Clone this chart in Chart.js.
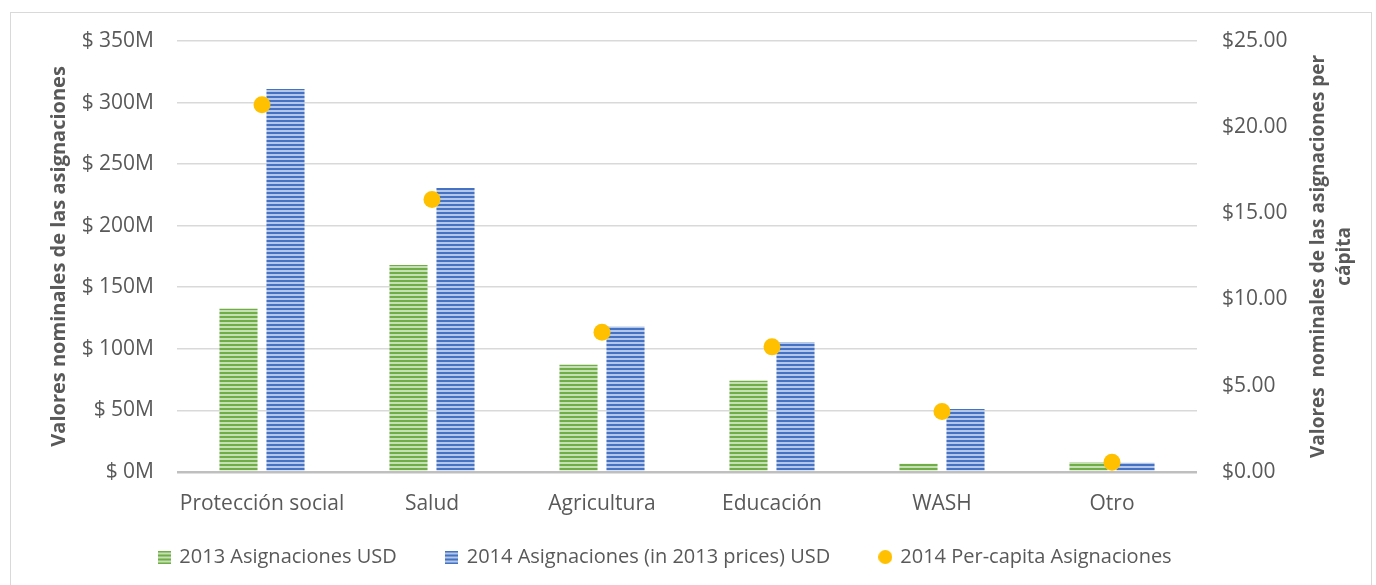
<!DOCTYPE html>
<html>
<head>
<meta charset="utf-8">
<script src="https://cdn.jsdelivr.net/npm/chart.js@4.4.1/dist/chart.umd.min.js"></script>
<style>
  html, body { margin: 0; padding: 0; background: #fff; }
  #wrap { position: absolute; left: 0; top: 0; width: 1376px; height: 585px; }
  #frame { position: absolute; left: 10px; top: 12px; width: 1360px; height: 590px; border: 1px solid #d9d9d9; pointer-events: none; }
</style>
</head>
<body>
<div id="wrap"><canvas id="chart" width="1376" height="585"></canvas></div>
<div id="frame"></div>
<script>
const categories = ["Protección social", "Salud", "Agricultura", "Educación", "WASH", "Otro"];
const asig2013 = [132.5, 168, 87, 74, 6.5, 8];
const asig2014 = [311, 230.5, 118, 105.5, 51, 7.3];
const perCapita2014 = [21.3, 15.8, 8.1, 7.25, 3.5, 0.55];
const leftTicks = [0, 50, 100, 150, 200, 250, 300, 350];
const rightTicks = [0, 5, 10, 15, 20, 25];

const FONT = "'Open Sans', sans-serif";
const FS = 21;
const GREY = "#595959";

function stripeCanvas(w, h, dark, light) {
    const c = document.createElement("canvas");
    c.width = w; c.height = h;
    const g = c.getContext("2d");
    g.fillStyle = light; g.fillRect(0, 0, w, h);
    g.fillStyle = dark;
    for (let y = 0; y < h; y += 4) g.fillRect(0, y, w, 2);
    return c;
}
function stripes(dark, light) {
    const c = stripeCanvas(4, 4, dark, light);
    return c.getContext("2d").createPattern(c, "repeat");
}
function dotCanvas(d, color) {
    const c = document.createElement("canvas");
    c.width = d; c.height = d;
    const g = c.getContext("2d");
    g.fillStyle = color;
    g.beginPath(); g.arc(d / 2, d / 2, d / 2, 0, Math.PI * 2); g.fill();
    return c;
}
const greenPat = stripes("#70ad47", "#c5e0b4");
const bluePat = stripes("#4472c4", "#b4c7e7");
const legendIcons = [
    stripeCanvas(13, 13, "#70ad47", "#c5e0b4"),
    stripeCanvas(13, 13, "#4472c4", "#b4c7e7"),
    dotCanvas(14, "#ffc000")
];

// right axis title reads bottom-to-top, drawn by hand
const rightTitle = {
    id: "rightTitle",
    afterDraw(chart) {
        const ctx = chart.ctx;
        const cy = (chart.chartArea.top + chart.chartArea.bottom) / 2;
        ctx.save();
        ctx.fillStyle = GREY;
        ctx.font = "bold 19px " + FONT;
        ctx.textAlign = "center";
        ctx.textBaseline = "middle";
        const lines = ["Valores  nominales de las asignaciones per", "cápita"];
        lines.forEach((t, i) => {
            ctx.save();
            ctx.translate(1319 + i * 26, cy);
            ctx.rotate(-Math.PI / 2);
            ctx.fillText(t, 0, 0);
            ctx.restore();
        });
        ctx.restore();
    }
};

const LEGEND_PAD = 30;
const GAP = "\u2002\u2002";
const PAD_R = 45;

new Chart(document.getElementById("chart"), {
    data: {
        labels: categories,
        datasets: [
            {
                type: "bar",
                label: "2013 Asignaciones USD",
                data: asig2013,
                backgroundColor: greenPat,
                yAxisID: "y",
                categoryPercentage: 0.553,
                barPercentage: 0.81,
                order: 1
            },
            {
                type: "bar",
                label: "2014 Asignaciones (in 2013 prices) USD",
                data: asig2014,
                backgroundColor: bluePat,
                yAxisID: "y",
                categoryPercentage: 0.553,
                barPercentage: 0.81,
                order: 1
            },
            {
                type: "line",
                label: "2014 Per-capita Asignaciones",
                data: perCapita2014,
                showLine: false,
                pointRadius: 8.5,
                pointHoverRadius: 8.5,
                pointStyle: "circle",
                backgroundColor: "#ffc000",
                borderColor: "#ffc000",
                borderWidth: 0,
                yAxisID: "y1",
                order: 0
            }
        ]
    },
    options: {
        responsive: false,
        animation: false,
        layout: { padding: { top: 41, left: 0, right: PAD_R, bottom: 8 } },
        plugins: {
            tooltip: { enabled: false },
            legend: {
                position: "bottom",
                labels: {
                    usePointStyle: true,
                    boxWidth: 10,
                    boxHeight: 13,
                    padding: LEGEND_PAD,
                    color: GREY,
                    font: { family: FONT, size: 20 },
                    sort: (a, b) => a.datasetIndex - b.datasetIndex,
                    generateLabels: chart => {
                        const items = Chart.defaults.plugins.legend.labels.generateLabels(chart);
                        items.forEach(it => {
                            it.pointStyle = legendIcons[it.datasetIndex];
                            if (it.datasetIndex < 2) it.text += GAP;
                        });
                        return items;
                    }
                }
            }
        },
        scales: {
            x: {
                grid: { display: false, drawTicks: true, tickLength: 20 },
                border: { display: false },
                ticks: { color: GREY, font: { family: FONT, size: FS }, padding: 0, maxRotation: 0 }
            },
            y: {
                position: "left",
                min: 0,
                max: 350,
                afterBuildTicks: s => { s.ticks = leftTicks.map(v => ({ value: v })); },
                grid: {
                    color: ctx => ctx.tick.value === 0 ? "#bfbfbf" : "#d9d9d9",
                    lineWidth: ctx => ctx.tick.value === 0 ? 2.5 : 1.5,
                    drawTicks: false
                },
                border: { display: false },
                ticks: {
                    color: GREY,
                    font: { family: FONT, size: FS },
                    padding: 23,
                    callback: v => "$ " + v + "M"
                },
                title: {
                    display: true,
                    text: "Valores nominales de las asignaciones",
                    color: GREY,
                    font: { family: FONT, size: 20, weight: "bold" },
                    padding: { top: 47, bottom: 0 }
                },
                afterFit: s => { s.width = 177; }
            },
            y1: {
                position: "right",
                min: 0,
                max: 25,
                afterBuildTicks: s => { s.ticks = rightTicks.map(v => ({ value: v })); },
                grid: { display: false, drawTicks: false },
                border: { display: false },
                ticks: {
                    color: GREY,
                    font: { family: FONT, size: FS },
                    padding: 25,
                    callback: v => "$" + Number(v).toFixed(2)
                },
                afterFit: s => { s.width = 1376 - PAD_R - 1197; }
            }
        }
    },
    plugins: [rightTitle]
});
</script>
</body>
</html>
